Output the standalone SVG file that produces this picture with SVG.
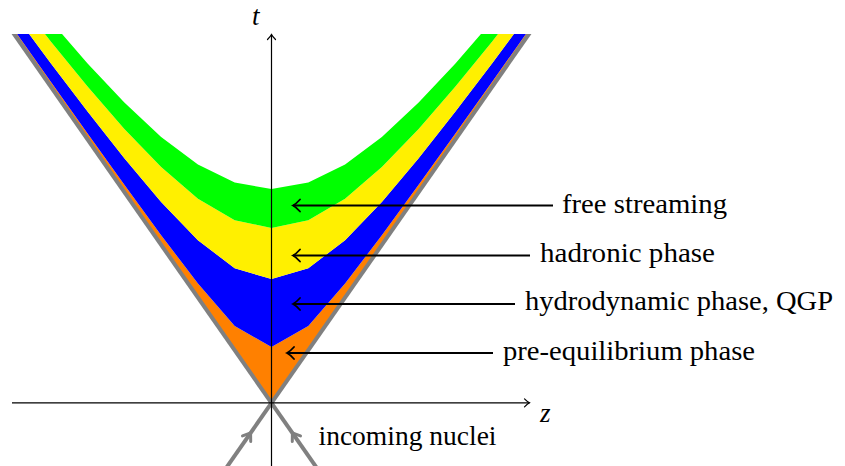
<svg xmlns="http://www.w3.org/2000/svg" width="845" height="466" viewBox="0 0 845 466">
<style>
.lbl{font-family:"Liberation Serif","DejaVu Serif",serif;font-size:27px;fill:#000}
.it{font-style:italic}
.cone{fill:none;stroke:#808080;stroke-width:4}
.axis{fill:none;stroke:#000;stroke-width:1.2}
.ptr{fill:none;stroke:#000;stroke-width:1.8}
.chev{fill:none;stroke:#808080;stroke-width:3;stroke-linecap:round;stroke-linejoin:round}
</style>
<defs>
<clipPath id="top"><rect x="0" y="34" width="845" height="440"/></clipPath>
<marker id="ax" markerUnits="userSpaceOnUse" viewBox="-8 -6 10 12" refX="0" refY="0" markerWidth="10" markerHeight="12" orient="auto">
<path d="M-5,-4 Q-2,-1 0,0 Q-2,1 -5,4" fill="none" stroke="#000" stroke-width="1.2" stroke-linecap="round"/>
</marker>
<marker id="pt" markerUnits="userSpaceOnUse" viewBox="-10 -8 12 16" refX="0" refY="0" markerWidth="12" markerHeight="16" orient="auto">
<path d="M-7,-6 Q-3,-1.5 0,0 Q-3,1.5 -7,6" fill="none" stroke="#000" stroke-width="1.8" stroke-linecap="round"/>
</marker>
</defs>
<g id="phases" clip-path="url(#top)">
<path id="pre-equilibrium" fill="#FF8000" d="M14,34 L271.5,403 L529,34 L529,29.7 L492.22,81.7 L455.43,133.5 L418.64,184.8 L381.86,235.2 L345.07,283.6 L308.29,326.1 L271.5,347 L234.71,326.1 L197.93,283.6 L161.14,235.2 L124.36,184.8 L87.57,133.5 L50.78,81.7 L14,29.7 Z"/>
<path id="hydro" fill="#0000FF" d="M14,29.7 L50.78,81.7 L87.57,133.5 L124.36,184.8 L161.14,235.2 L197.93,283.6 L234.71,326.1 L271.5,347 L308.29,326.1 L345.07,283.6 L381.86,235.2 L418.64,184.8 L455.43,133.5 L492.22,81.7 L529,29.7 L529,13.6 L492.22,63.2 L455.43,111.6 L418.64,158.3 L381.86,202 L345.07,240.2 L308.29,268.3 L271.5,279 L234.71,268.3 L197.93,240.2 L161.14,202 L124.36,158.3 L87.57,111.6 L50.78,63.2 L14,13.6 Z"/>
<path id="hadronic" fill="#FFF000" d="M14,13.6 L50.78,63.2 L87.57,111.6 L124.36,158.3 L161.14,202 L197.93,240.2 L234.71,268.3 L271.5,279 L308.29,268.3 L345.07,240.2 L381.86,202 L418.64,158.3 L455.43,111.6 L492.22,63.2 L529,13.6 L529,-5.5 L492.22,41.4 L455.43,86.6 L418.64,128.9 L381.86,167.1 L345.07,198.7 L308.29,220.2 L271.5,228 L234.71,220.2 L197.93,198.7 L161.14,167.1 L124.36,128.9 L87.57,86.6 L50.78,41.4 L14,-5.5 Z"/>
<path id="free" fill="#00FF00" d="M14,-5.5 L50.78,41.4 L87.57,86.6 L124.36,128.9 L161.14,167.1 L197.93,198.7 L234.71,220.2 L271.5,228 L308.29,220.2 L345.07,198.7 L381.86,167.1 L418.64,128.9 L455.43,86.6 L492.22,41.4 L529,-5.5 L529,-23.7 L492.22,21 L455.43,63.4 L418.64,102.5 L381.86,136.9 L345.07,164.4 L308.29,182.6 L271.5,189 L234.71,182.6 L197.93,164.4 L161.14,136.9 L124.36,102.5 L87.57,63.4 L50.78,21 L14,-23.7 Z"/>
</g>
<g id="lightcone" clip-path="url(#top)">
<line class="cone" x1="224.75" y1="470" x2="531.8" y2="30"/>
<line class="cone" x1="318.25" y1="470" x2="11.2" y2="30"/>
</g>
<g id="axes">
<line class="axis" x1="271.5" y1="466" x2="271.5" y2="34.5" marker-end="url(#ax)"/>
<line class="axis" x1="12" y1="402.8" x2="529.5" y2="402.8" marker-end="url(#ax)"/>
<text class="lbl it" x="252" y="25">t</text>
<text class="lbl it" x="540" y="422">z</text>
</g>
<g id="connectors">
<line class="ptr" x1="553" y1="205.5" x2="293" y2="205.5" marker-end="url(#pt)"/>
<line class="ptr" x1="530" y1="255.5" x2="293" y2="255.5" marker-end="url(#pt)"/>
<line class="ptr" x1="515" y1="304" x2="293" y2="304" marker-end="url(#pt)"/>
<line class="ptr" x1="493" y1="353" x2="287" y2="353" marker-end="url(#pt)"/>
</g>
<g id="incoming">
<path class="chev" transform="translate(250.6,433) rotate(-55.1)" d="M-7,-5 L0,0 L-7,5"/>
<path class="chev" transform="translate(292.4,433) rotate(-124.9)" d="M-7,-5 L0,0 L-7,5"/>
<text class="lbl" x="318.5" y="445" textLength="178" lengthAdjust="spacingAndGlyphs">incoming nuclei</text>
</g>
<g id="label-free"><text class="lbl" x="562" y="213" textLength="165" lengthAdjust="spacingAndGlyphs">free streaming</text></g>
<g id="label-hadronic"><text class="lbl" x="540" y="262" textLength="175" lengthAdjust="spacingAndGlyphs">hadronic phase</text></g>
<g id="label-hydro"><text class="lbl" x="525" y="310" textLength="308" lengthAdjust="spacingAndGlyphs">hydrodynamic phase, QGP</text></g>
<g id="label-pre"><text class="lbl" x="503" y="360" textLength="252" lengthAdjust="spacingAndGlyphs">pre-equilibrium phase</text></g>
</svg>
